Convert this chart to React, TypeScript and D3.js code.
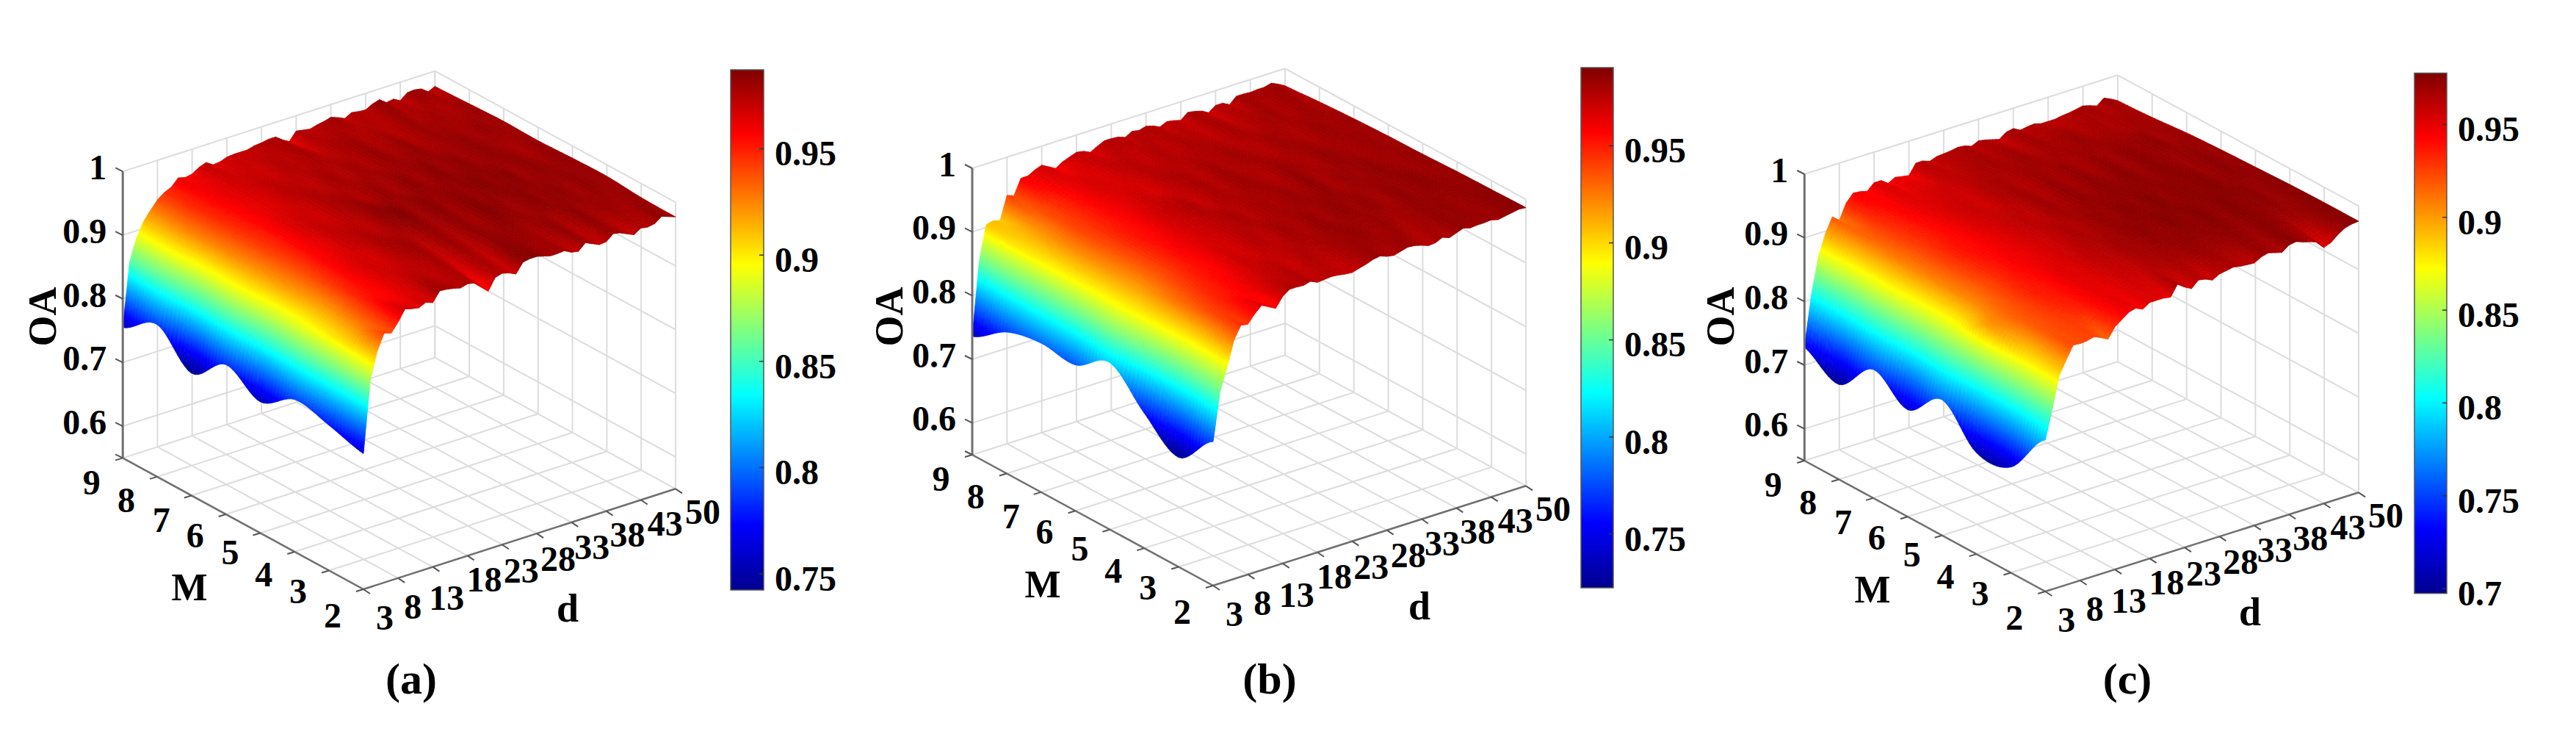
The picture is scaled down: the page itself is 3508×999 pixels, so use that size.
import React, { useMemo } from 'react';
import * as d3 from 'd3';

// sampled d values of the inner rows, and M values (rows, back to front)
const dValues = [3, 4, 5, 7, 9, 11, 13, 15, 17, 19, 21, 23, 25, 27, 29, 31, 33, 35, 37, 39, 41, 43, 45, 47, 48];
// the two outer rows (M = 9 and M = 2) are read at every d, 3..48
const dFine = d3.range(3, 49);
const mValues = [9, 8, 7, 6, 5, 4, 3, 2];
const dTicks = [3, 8, 13, 18, 23, 28, 33, 38, 43, 48];
const dTickLabels = ['3', '8', '13', '18', '23', '28', '33', '38', '43', '50'];
const oaTicks = [0.6, 0.7, 0.8, 0.9, 1];
const oaLabels = ['0.6', '0.7', '0.8', '0.9', '1'];

const edgeA9 = [0.755, 0.855, 0.889, 0.911, 0.925, 0.938, 0.946, 0.951, 0.962, 0.959, 0.961, 0.968, 0.972, 0.965, 0.966, 0.970, 0.971, 0.971, 0.971, 0.974, 0.975, 0.977, 0.977, 0.969, 0.963, 0.976, 0.974, 0.972, 0.975, 0.977, 0.980, 0.976, 0.971, 0.977, 0.975, 0.974, 0.980, 0.983, 0.975, 0.977, 0.971, 0.980, 0.981, 0.979, 0.971, 0.976];
const edgeA2 = [0.763, 0.875, 0.917, 0.942, 0.938, 0.952, 0.969, 0.966, 0.964, 0.969, 0.965, 0.980, 0.979, 0.977, 0.974, 0.977, 0.975, 0.965, 0.955, 0.973, 0.976, 0.973, 0.968, 0.983, 0.985, 0.985, 0.982, 0.979, 0.979, 0.980, 0.974, 0.972, 0.982, 0.977, 0.972, 0.973, 0.982, 0.980, 0.975, 0.970, 0.977, 0.975, 0.977, 0.985, 0.981, 0.977];
const edgeB9 = [0.736, 0.850, 0.904, 0.907, 0.904, 0.940, 0.936, 0.960, 0.960, 0.966, 0.970, 0.964, 0.958, 0.965, 0.969, 0.973, 0.971, 0.966, 0.972, 0.977, 0.977, 0.976, 0.972, 0.978, 0.976, 0.979, 0.976, 0.971, 0.976, 0.974, 0.971, 0.980, 0.978, 0.975, 0.969, 0.977, 0.977, 0.971, 0.981, 0.981, 0.980, 0.981, 0.981, 0.984, 0.979, 0.973];
const edgeB2 = [0.776, 0.851, 0.885, 0.925, 0.945, 0.943, 0.956, 0.966, 0.960, 0.954, 0.969, 0.977, 0.977, 0.976, 0.979, 0.974, 0.975, 0.976, 0.975, 0.973, 0.972, 0.975, 0.978, 0.982, 0.984, 0.980, 0.978, 0.981, 0.984, 0.983, 0.980, 0.976, 0.977, 0.982, 0.978, 0.982, 0.986, 0.983, 0.984, 0.984, 0.985, 0.982, 0.984, 0.986, 0.988, 0.987];
const edgeC9 = [0.728, 0.807, 0.863, 0.896, 0.919, 0.910, 0.934, 0.946, 0.945, 0.942, 0.952, 0.952, 0.944, 0.950, 0.948, 0.946, 0.962, 0.962, 0.958, 0.962, 0.963, 0.964, 0.966, 0.965, 0.961, 0.966, 0.964, 0.961, 0.958, 0.966, 0.968, 0.962, 0.964, 0.965, 0.962, 0.962, 0.962, 0.964, 0.965, 0.967, 0.969, 0.966, 0.962, 0.971, 0.966, 0.960];
const edgeC2 = [0.788, 0.833, 0.882, 0.903, 0.923, 0.922, 0.923, 0.926, 0.921, 0.915, 0.931, 0.939, 0.947, 0.950, 0.945, 0.952, 0.952, 0.952, 0.950, 0.967, 0.959, 0.953, 0.963, 0.961, 0.956, 0.962, 0.964, 0.966, 0.964, 0.963, 0.962, 0.968, 0.971, 0.968, 0.965, 0.973, 0.975, 0.971, 0.968, 0.964, 0.952, 0.956, 0.965, 0.972, 0.975, 0.976];

const oaA = [
  edgeA9,
  [0.789, 0.858, 0.893, 0.927, 0.947, 0.957, 0.964, 0.968, 0.971, 0.969, 0.975, 0.973, 0.978, 0.972, 0.977, 0.980, 0.975, 0.978, 0.974, 0.981, 0.977, 0.979, 0.976, 0.981, 0.978],
  [0.742, 0.846, 0.886, 0.925, 0.944, 0.955, 0.962, 0.966, 0.973, 0.975, 0.972, 0.979, 0.975, 0.980, 0.976, 0.982, 0.978, 0.983, 0.977, 0.980, 0.982, 0.978, 0.982, 0.979, 0.980],
  [0.785, 0.856, 0.890, 0.921, 0.941, 0.953, 0.966, 0.970, 0.968, 0.977, 0.980, 0.975, 0.982, 0.977, 0.984, 0.978, 0.985, 0.980, 0.984, 0.979, 0.983, 0.981, 0.977, 0.982, 0.979],
  [0.756, 0.845, 0.884, 0.919, 0.939, 0.956, 0.963, 0.972, 0.975, 0.972, 0.983, 0.986, 0.979, 0.985, 0.980, 0.984, 0.981, 0.986, 0.982, 0.985, 0.979, 0.984, 0.980, 0.983, 0.981],
  [0.789, 0.857, 0.892, 0.917, 0.944, 0.959, 0.968, 0.966, 0.977, 0.980, 0.974, 0.982, 0.977, 0.983, 0.978, 0.986, 0.983, 0.979, 0.985, 0.981, 0.984, 0.979, 0.983, 0.980, 0.982],
  [0.778, 0.862, 0.903, 0.929, 0.954, 0.957, 0.967, 0.974, 0.972, 0.978, 0.968, 0.980, 0.972, 0.984, 0.982, 0.981, 0.978, 0.983, 0.976, 0.984, 0.978, 0.981, 0.979, 0.982, 0.978],
  edgeA2,
];

const oaB = [
  edgeB9,
  [0.772, 0.855, 0.895, 0.915, 0.938, 0.950, 0.962, 0.968, 0.966, 0.973, 0.976, 0.972, 0.978, 0.974, 0.979, 0.977, 0.974, 0.981, 0.975, 0.979, 0.982, 0.978, 0.983, 0.979, 0.977],
  [0.784, 0.850, 0.890, 0.920, 0.940, 0.948, 0.958, 0.965, 0.970, 0.967, 0.976, 0.979, 0.975, 0.981, 0.977, 0.982, 0.979, 0.976, 0.983, 0.980, 0.978, 0.984, 0.981, 0.983, 0.980],
  [0.779, 0.852, 0.888, 0.918, 0.937, 0.951, 0.956, 0.968, 0.973, 0.978, 0.971, 0.980, 0.977, 0.983, 0.980, 0.977, 0.984, 0.981, 0.979, 0.985, 0.982, 0.980, 0.984, 0.981, 0.982],
  [0.812, 0.862, 0.890, 0.915, 0.935, 0.948, 0.960, 0.966, 0.971, 0.975, 0.980, 0.975, 0.981, 0.979, 0.984, 0.981, 0.986, 0.979, 0.984, 0.982, 0.986, 0.983, 0.981, 0.985, 0.983],
  [0.762, 0.842, 0.885, 0.925, 0.942, 0.952, 0.957, 0.970, 0.968, 0.977, 0.974, 0.982, 0.978, 0.985, 0.980, 0.986, 0.983, 0.985, 0.980, 0.986, 0.983, 0.987, 0.984, 0.983, 0.985],
  [0.722, 0.835, 0.880, 0.935, 0.950, 0.955, 0.965, 0.972, 0.975, 0.971, 0.978, 0.976, 0.981, 0.983, 0.985, 0.981, 0.984, 0.979, 0.983, 0.985, 0.986, 0.982, 0.985, 0.987, 0.986],
  edgeB2,
];

const oaC = [
  edgeC9,
  [0.699, 0.800, 0.860, 0.912, 0.930, 0.940, 0.950, 0.952, 0.955, 0.958, 0.962, 0.965, 0.968, 0.966, 0.970, 0.964, 0.969, 0.967, 0.971, 0.966, 0.968, 0.965, 0.969, 0.967, 0.963],
  [0.752, 0.815, 0.865, 0.908, 0.926, 0.936, 0.945, 0.954, 0.958, 0.955, 0.965, 0.968, 0.963, 0.971, 0.967, 0.972, 0.966, 0.972, 0.968, 0.973, 0.970, 0.974, 0.968, 0.971, 0.968],
  [0.718, 0.808, 0.860, 0.906, 0.925, 0.938, 0.942, 0.950, 0.956, 0.962, 0.960, 0.970, 0.966, 0.973, 0.969, 0.974, 0.971, 0.975, 0.970, 0.975, 0.972, 0.969, 0.974, 0.970, 0.971],
  [0.763, 0.822, 0.868, 0.905, 0.922, 0.934, 0.944, 0.948, 0.954, 0.958, 0.966, 0.964, 0.972, 0.970, 0.975, 0.972, 0.976, 0.971, 0.975, 0.973, 0.976, 0.971, 0.974, 0.972, 0.973],
  [0.709, 0.815, 0.900, 0.915, 0.924, 0.936, 0.940, 0.951, 0.952, 0.960, 0.962, 0.968, 0.969, 0.974, 0.971, 0.976, 0.973, 0.976, 0.972, 0.976, 0.973, 0.975, 0.970, 0.974, 0.975],
  [0.716, 0.820, 0.875, 0.918, 0.925, 0.930, 0.938, 0.949, 0.950, 0.956, 0.958, 0.964, 0.967, 0.968, 0.972, 0.970, 0.971, 0.974, 0.970, 0.975, 0.972, 0.968, 0.971, 0.975, 0.976],
  edgeC2,
];

const barTicksA = [0.75, 0.8, 0.85, 0.9, 0.95];
const barTicksB = [0.75, 0.8, 0.85, 0.9, 0.95];
const barTicksC = [0.7, 0.75, 0.8, 0.85, 0.9, 0.95];

// layout of each panel, in page pixels
const panels = [
  {
    id: 'a', title: '(a)', values: oaA, range: [0.7424, 0.9872], barTicks: barTicksA,
    L: [167.2, 623.4], B: [592.3, 486.7], R: [920, 665.3],
    bar: { x: 995, w: 45, top: 95, bottom: 803 },
    oaPos: [57, 431], mPos: [258, 799], dPos: [773, 827], titlePos: [560, 923],
  },
  {
    id: 'b', title: '(b)', values: oaB, range: [0.7223, 0.9903], barTicks: barTicksB,
    L: [1324, 619], B: [1750, 483.3], R: [2078, 661.3],
    bar: { x: 2153, w: 44, top: 92, bottom: 800 },
    oaPos: [1210, 431], mPos: [1420, 795], dPos: [1933, 824], titlePos: [1729, 923],
  },
  {
    id: 'c', title: '(c)', values: oaC, range: [0.6974, 0.9777], barTicks: barTicksC,
    L: [2457.3, 627], B: [2884, 492.3], R: [3212, 670.3],
    bar: { x: 3288, w: 44, top: 99.5, bottom: 807.6 },
    oaPos: [2342, 431], mPos: [2550, 802], dPos: [3064, 832], titlePos: [2897, 923],
  },
];

const mLabelDx = [-42.5, -42, -41, -42, -41, -42, -42, -42];
const mLabelDy = [32.6, 31, 32.6, 28, 25.5, 30, 28, 35.5];
const dLabelDx = [29, 20, 19, 23, 26, 29, 28, 29, 33, 37];
const dLabelDy = [38, 38, 42, 32, 35, 34, 33, 32, 32, 31];

const FONT = '"Liberation Serif", serif';
const zFloor = 0.55;
const zHeight = 390; // px from OA 0.55 to OA 1
const M_SUB = 10;
const GRID = '#dcdcdc';
const AXIS = '#707070';

const jetStops = [0, 0.125, 0.375, 0.625, 0.875, 1];
const jetColors = ['#00008f', '#0000ff', '#00ffff', '#ffff00', '#ff0000', '#800000'];
const jet = d3.scaleLinear<string>().domain(jetStops).range(jetColors).interpolate(d3.interpolateRgb).clamp(true);
const jetTable = d3.range(256).map(i => jet(i / 255));

// Catmull-Rom through the M rows of one column, surf in M looks smooth in the original
function catmull(p0: number, p1: number, p2: number, p3: number, t: number) {
  return 0.5 * (2 * p1 + (p2 - p0) * t + (2 * p0 - 5 * p1 + 4 * p2 - p3) * t * t + (3 * p1 - p0 - 3 * p2 + p3) * t * t * t);
}

function buildSurface(panel: any, project: (d: number, m: number, z: number) => number[]) {
  const colorT = d3.scaleLinear().domain(panel.range).range([0, 255]).clamp(true);
  // put every row on the same d columns for the mesh
  const values: number[][] = panel.values.map((row: number[]) => {
    const at = d3.scaleLinear().domain(row.length === dFine.length ? dFine : dValues).range(row);
    return dFine.map(d => at(d));
  });
  const mFine: number[] = [];
  const rows: number[][] = [];
  for (let r = 0; r < mValues.length - 1; r++) {
    for (let s = 0; s < M_SUB + (r === mValues.length - 2 ? 1 : 0); s++) {
      const t = s / M_SUB;
      mFine.push(mValues[r] + (mValues[r + 1] - mValues[r]) * t);
      rows.push(dFine.map((_, c) => catmull(
        values[Math.max(r - 1, 0)][c], values[r][c], values[r + 1][c], values[Math.min(r + 2, mValues.length - 1)][c], t
      )));
    }
  }
  const out: { fill: string; d: string }[] = [];
  let current: { fill: string; d: string } | null = null;
  const add = (idx: number, pts: number[][]) => {
    const fill = jetTable[idx];
    const seg = 'M' + pts.map(p => p[0].toFixed(1) + ',' + p[1].toFixed(1)).join('L') + 'Z';
    if (current && current.fill === fill) current.d += seg;
    else { current = { fill, d: seg }; out.push(current); }
  };
  // back corner first: high d, then high M
  for (let c = dFine.length - 2; c >= 0; c--) {
    const spread = d3.max(rows, row => Math.abs(row[c + 1] - row[c])) as number;
    const nd = Math.max(2, Math.ceil(spread / 0.0025));
    for (let j = nd - 1; j >= 0; j--) {
      const t0 = j / nd;
      const t1 = (j + 1) / nd;
      const d0 = dFine[c] + t0;
      const d1 = dFine[c] + t1;
      for (let i = 0; i < rows.length - 1; i++) {
        const za = rows[i][c] + (rows[i][c + 1] - rows[i][c]) * t0;
        const zb = rows[i][c] + (rows[i][c + 1] - rows[i][c]) * t1;
        const zc = rows[i + 1][c] + (rows[i + 1][c + 1] - rows[i + 1][c]) * t1;
        const ze = rows[i + 1][c] + (rows[i + 1][c + 1] - rows[i + 1][c]) * t0;
        const idx = Math.round(colorT((za + zb + zc + ze) / 4));
        add(idx, [
          project(d0, mFine[i], za),
          project(d1, mFine[i], zb),
          project(d1, mFine[i + 1], zc),
          project(d0, mFine[i + 1], ze),
        ]);
      }
    }
  }
  return out;
}

function Panel({ panel }: { panel: any }) {
  const { L, B, R, bar } = panel;
  const dT = d3.scaleLinear().domain([3, 48]).range([0, 1]);
  const mT = d3.scaleLinear().domain([9, 2]).range([0, 1]);
  const zPx = d3.scaleLinear().domain([zFloor, 1]).range([0, zHeight]);
  const project = (d: number, m: number, z: number) => [
    L[0] + dT(d) * (B[0] - L[0]) + mT(m) * (R[0] - B[0]),
    L[1] + dT(d) * (B[1] - L[1]) + mT(m) * (R[1] - B[1]) - zPx(z),
  ];
  const seg = (a: number[], b: number[]) => ({ x1: a[0], y1: a[1], x2: b[0], y2: b[1] });
  const surface = useMemo(() => buildSurface(panel, project), []);
  const barY = d3.scaleLinear().domain(panel.range).range([bar.bottom, bar.top]);
  const gradId = 'jet-' + panel.id;
  const textStyle = { fontFamily: FONT, fontWeight: 'bold' as const, fill: '#000' };

  return (
    <g>
      {/* walls and floor grid */}
      <g stroke={GRID} strokeWidth={2} fill="none">
        {dTicks.map(d => <line key={'fm' + d} {...seg(project(d, 9, zFloor), project(d, 2, zFloor))} />)}
        {mValues.map(m => <line key={'fd' + m} {...seg(project(3, m, zFloor), project(48, m, zFloor))} />)}
        {dTicks.map(d => <line key={'wd' + d} {...seg(project(d, 9, zFloor), project(d, 9, 1))} />)}
        {mValues.map(m => <line key={'wm' + m} {...seg(project(48, m, zFloor), project(48, m, 1))} />)}
        {oaTicks.map(z => <line key={'wz1' + z} {...seg(project(3, 9, z), project(48, 9, z))} />)}
        {oaTicks.map(z => <line key={'wz2' + z} {...seg(project(48, 9, z), project(48, 2, z))} />)}
      </g>

      {surface.map((p, i) => <path key={i} d={p.d} fill={p.fill} stroke={p.fill} strokeWidth={0.8} strokeLinejoin="round" />)}

      {/* axes */}
      <g stroke={AXIS} fill="none">
        <line {...seg(project(3, 9, zFloor), project(3, 9, 1))} strokeWidth={3} />
        <line {...seg(project(3, 9, zFloor), project(3, 2, zFloor))} strokeWidth={2.5} />
        <line {...seg(project(3, 2, zFloor), project(48, 2, zFloor))} strokeWidth={2.5} />
      </g>
      <g stroke="#555" strokeWidth={2} fill="none">
        {oaTicks.concat(zFloor).map(z => {
          const p = project(3, 9, z);
          return <line key={'tz' + z} x1={p[0]} y1={p[1]} x2={p[0] - 10} y2={p[1] - 5} />;
        })}
        {mValues.map(m => {
          const p = project(3, m, zFloor);
          return <line key={'tm' + m} x1={p[0]} y1={p[1]} x2={p[0] - 10} y2={p[1] + 3} />;
        })}
        {dTicks.map(d => {
          const p = project(d, 2, zFloor);
          return <line key={'td' + d} x1={p[0]} y1={p[1]} x2={p[0] + 9} y2={p[1] + 6} />;
        })}
      </g>

      {/* tick labels */}
      <g {...textStyle} fontSize={48}>
        {oaTicks.map((z, i) => {
          const p = project(3, 9, z);
          return <text key={z} x={p[0] - 22} y={p[1] - 6} dy="0.35em" textAnchor="end">{oaLabels[i]}</text>;
        })}
        {mValues.map((m, i) => {
          const p = project(3, m, zFloor);
          return <text key={m} x={p[0] + mLabelDx[i]} y={p[1] + mLabelDy[i]} dy="0.35em" textAnchor="middle">{m}</text>;
        })}
        {dTicks.map((d, i) => {
          const p = project(d, 2, zFloor);
          return <text key={d} x={p[0] + dLabelDx[i]} y={p[1] + dLabelDy[i]} dy="0.35em" textAnchor="middle">{dTickLabels[i]}</text>;
        })}
      </g>

      {/* axis names and panel title */}
      <g {...textStyle} textAnchor="middle">
        <text transform={`translate(${panel.oaPos[0]},${panel.oaPos[1]}) rotate(-90)`} dy="0.35em" fontSize={54}>OA</text>
        <text x={panel.mPos[0]} y={panel.mPos[1]} dy="0.35em" fontSize={52}>M</text>
        <text x={panel.dPos[0]} y={panel.dPos[1]} dy="0.35em" fontSize={54}>d</text>
        <text x={panel.titlePos[0]} y={panel.titlePos[1]} dy="0.35em" fontSize={60}>{panel.title}</text>
      </g>

      {/* colour bar */}
      <defs>
        <linearGradient id={gradId} x1="0" y1="1" x2="0" y2="0">
          {jetStops.map((s, i) => <stop key={s} offset={s} stopColor={jetColors[i]} />)}
        </linearGradient>
      </defs>
      <rect x={bar.x} y={bar.top} width={bar.w} height={bar.bottom - bar.top} fill={`url(#${gradId})`} stroke="#555" strokeWidth={1.5} />
      {panel.barTicks.map((t: number) => (
        <g key={t}>
          <line x1={bar.x + bar.w - 6} x2={bar.x + bar.w} y1={barY(t)} y2={barY(t)} stroke="#333" strokeWidth={1.5} />
          <text {...textStyle} x={bar.x + bar.w + 15} y={barY(t) + 6} dy="0.35em" fontSize={48}>{t}</text>
        </g>
      ))}
    </g>
  );
}

export default function App() {
  return (
    <svg width={3508} height={999} viewBox="0 0 3508 999" style={{ position: 'absolute', left: 0, top: 0, background: '#fff', display: 'block' }}>
      {panels.map(p => <Panel key={p.id} panel={p} />)}
    </svg>
  );
}
